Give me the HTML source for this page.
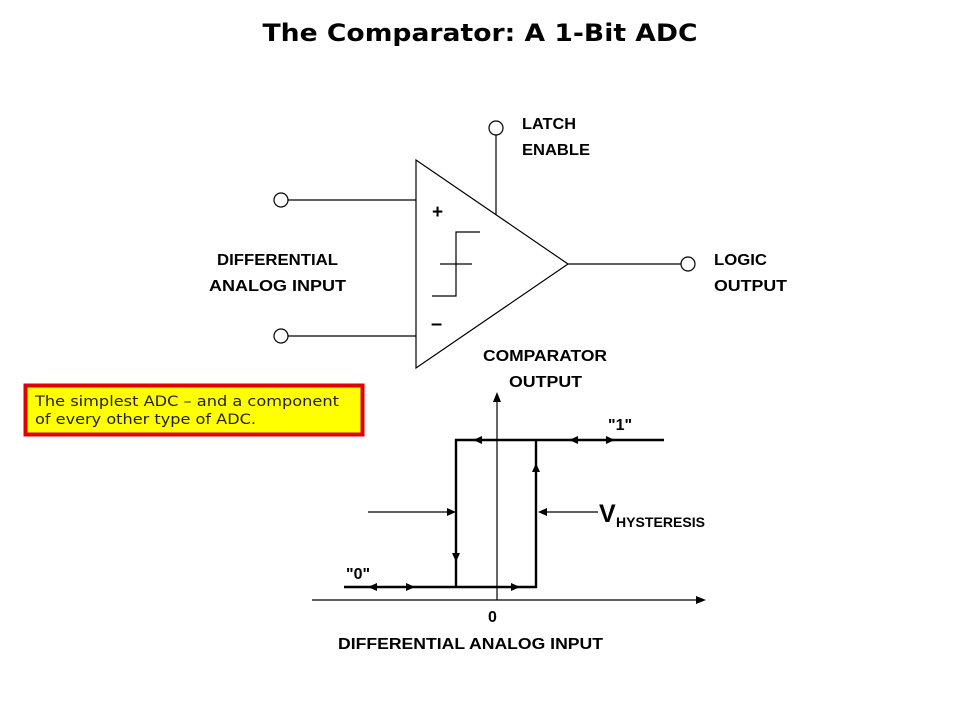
<!DOCTYPE html>
<html><head><meta charset="utf-8"><style>
html,body{margin:0;padding:0;background:#fff;}
svg{display:block}
.l{font-family:"Liberation Sans",sans-serif;font-weight:bold;font-size:16px;fill:#000}
</style></head><body>
<svg width="960" height="720" viewBox="0 0 960 720" xmlns="http://www.w3.org/2000/svg">
<text x="480" y="41" text-anchor="middle" font-family="DejaVu Sans" font-weight="bold" font-size="24" textLength="435" lengthAdjust="spacingAndGlyphs">The Comparator: A 1-Bit ADC</text>
<g stroke="#000" stroke-width="1.2" fill="none">
<polygon points="416,160 416,368 568,264" fill="#fff"/>
<line x1="288" y1="200" x2="416" y2="200"/>
<line x1="288" y1="336" x2="416" y2="336"/>
<circle cx="281" cy="200" r="7" fill="#fff"/>
<circle cx="281" cy="336" r="7" fill="#fff"/>
<line x1="496" y1="135" x2="496" y2="215"/>
<circle cx="496" cy="128" r="7" fill="#fff"/>
<line x1="568" y1="264" x2="681" y2="264"/>
<circle cx="688" cy="264" r="7" fill="#fff"/>
<polyline points="432,296 456,296 456,232 480,232"/>
<line x1="440" y1="264" x2="472" y2="264"/>
<line x1="497" y1="600" x2="497" y2="400"/>
<line x1="312" y1="600" x2="698" y2="600"/>
<line x1="368" y1="512" x2="450" y2="512"/>
<line x1="544" y1="512" x2="598" y2="512"/>
</g>
<g stroke="#000" stroke-width="2.4" fill="none">
<polyline points="344,587 536,587 536,440"/>
<polyline points="664,440 456,440 456,587"/>
</g>
<g fill="#000">
<polygon points="497,392 493,402 501,402"/>
<polygon points="706,600 696,596 696,604"/>
<polygon points="456,512 447,508 447,516"/>
<polygon points="538,512 547,508 547,516"/>
<polygon points="473,440 482,436 482,444"/>
<polygon points="569,440 578,436 578,444"/>
<polygon points="615,440 606,436 606,444"/>
<polygon points="536,463 532,472 540,472"/>
<polygon points="456,562 452,553 460,553"/>
<polygon points="368,587 377,583 377,591"/>
<polygon points="415,587 406,583 406,591"/>
<polygon points="520,587 511,583 511,591"/>
</g>
<text class="l" x="522" y="129" textLength="54" lengthAdjust="spacingAndGlyphs">LATCH</text>
<text class="l" x="522" y="155" textLength="68" lengthAdjust="spacingAndGlyphs">ENABLE</text>
<text class="l" x="432" y="218" style="font-size:19px">+</text>
<text class="l" x="431" y="330" style="font-size:20px">–</text>
<text class="l" x="217" y="265" textLength="121" lengthAdjust="spacingAndGlyphs">DIFFERENTIAL</text>
<text class="l" x="209" y="291" textLength="137" lengthAdjust="spacingAndGlyphs">ANALOG INPUT</text>
<text class="l" x="714" y="265" textLength="53" lengthAdjust="spacingAndGlyphs">LOGIC</text>
<text class="l" x="714" y="291" textLength="73" lengthAdjust="spacingAndGlyphs">OUTPUT</text>
<text class="l" x="483" y="361" textLength="124" lengthAdjust="spacingAndGlyphs">COMPARATOR</text>
<text class="l" x="509" y="387" textLength="73" lengthAdjust="spacingAndGlyphs">OUTPUT</text>
<text class="l" x="608" y="430">"1"</text>
<text class="l" x="346" y="579">"0"</text>
<text class="l" x="599" y="522" style="font-size:25px">V</text>
<text class="l" x="616" y="527" style="font-size:14px" textLength="89" lengthAdjust="spacingAndGlyphs">HYSTERESIS</text>
<text class="l" x="488" y="622">0</text>
<text class="l" x="338" y="649" textLength="265" lengthAdjust="spacingAndGlyphs">DIFFERENTIAL ANALOG INPUT</text>
<rect x="25.5" y="385.5" width="337" height="49" fill="#ffff00" stroke="#e00000" stroke-width="4"/>
<text x="35" y="406" font-family="DejaVu Sans" font-size="14" fill="#222" textLength="304" lengthAdjust="spacingAndGlyphs">The simplest ADC – and a component</text>
<text x="35" y="424" font-family="DejaVu Sans" font-size="14" fill="#222" textLength="221" lengthAdjust="spacingAndGlyphs">of every other type of ADC.</text>
</svg>
</body></html>
